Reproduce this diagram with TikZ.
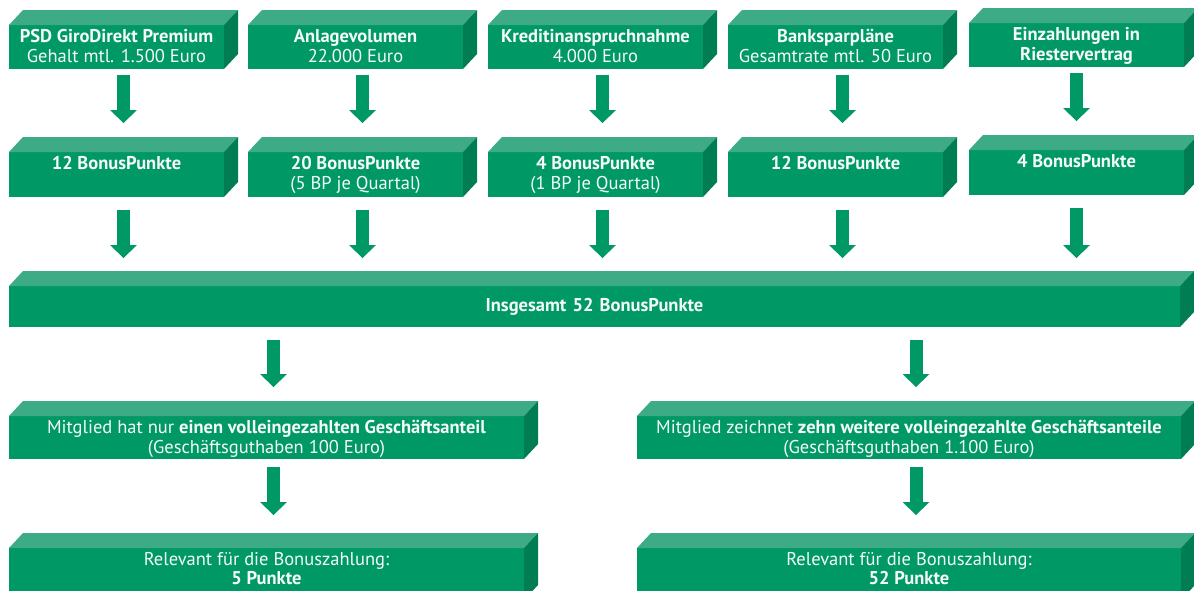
\documentclass[tikz,border=0pt]{standalone}
\usepackage{fontspec}
\setmainfont{PT Sans}
\usetikzlibrary{arrows.meta}
\definecolor{frontc}{HTML}{009966}
\definecolor{topc}{HTML}{3DAB85}
\definecolor{sidec}{HTML}{007D52}
\definecolor{txtc}{HTML}{F4FAF6}
\newcommand\bx[3]{\begin{minipage}[t][#2][t]{#1}\centering\rule{0pt}{17pt}#3\end{minipage}}
\begin{document}
\begin{tikzpicture}[x=1pt,y=-1pt,
  front/.style={fill=frontc, inner sep=0pt, outer sep=0pt, anchor=north west, text=txtc, font=\fontsize{18.5}{20}\selectfont},
  arr/.style={draw=frontc, line width=13pt, -{Triangle[width=27pt,length=13pt,line width=0pt]}},
  topface/.style={fill=topc},
  sideface/.style={fill=sidec}]
\useasboundingbox (0,0) rectangle (1194,590);
\clip (0,0) rectangle (1194,590);
% row 1
\node[front] (a1) at (9,25) {\bx{215pt}{44pt}{\textbf{PSD GiroDirekt Premium}\\Gehalt mtl. 1.500 Euro}};
\node[front] (a2) at (248,25) {\bx{215pt}{44pt}{\textbf{Anlagevolumen}\\22.000 Euro}};
\node[front] (a3) at (488,25) {\bx{215pt}{44pt}{\textbf{Kreditinanspruchnahme}\\4.000 Euro}};
\node[front] (a4) at (728,25) {\bx{215pt}{44pt}{\textbf{Banksparpläne}\\Gesamtrate mtl. 50 Euro}};
\node[front] (a5) at (969,23) {\bx{215pt}{44pt}{\textbf{Einzahlungen in}\\\textbf{Riestervertrag}}};
% row 2
\node[front] (b1) at (9,152) {\bx{215pt}{45pt}{\textbf{12 BonusPunkte}}};
\node[front] (b2) at (248,152) {\bx{215pt}{45pt}{\textbf{20 BonusPunkte}\\(5 BP je Quartal)}};
\node[front] (b3) at (488,152) {\bx{215pt}{45pt}{\textbf{4 BonusPunkte}\\(1 BP je Quartal)}};
\node[front] (b4) at (728,152) {\bx{215pt}{45pt}{\textbf{12 BonusPunkte}}};
\node[front] (b5) at (969,150) {\bx{215pt}{45pt}{\textbf{4 BonusPunkte}}};
% bar
\node[front, minimum width=1171pt, minimum height=41pt, text width=1159pt, align=center] (bar) at (9,286) {\textbf{Insgesamt 52 BonusPunkte}};
% row 4
\node[front] (c1) at (9,416) {\bx{515pt}{43pt}{Mitglied hat nur \textbf{einen volleingezahlten Geschäftsanteil}\\(Geschäftsguthaben 100 Euro)}};
\node[front] (c2) at (637,416) {\bx{544pt}{43pt}{Mitglied zeichnet \textbf{zehn weitere volleingezahlte Geschäftsanteile}\\(Geschäftsguthaben 1.100 Euro)}};
% row 5
\node[front] (d1) at (9,548) {\bx{515pt}{52pt}{\baselineskip=19pt Relevant für die Bonuszahlung:\\\textbf{5 Punkte}}};
\node[front] (d2) at (637,548) {\bx{544pt}{52pt}{\baselineskip=19pt Relevant für die Bonuszahlung:\\\textbf{52 Punkte}}};
% 3d faces
\foreach \n in {a1,a2,a3,a4,a5,b1,b2,b3,b4,b5,bar,c1,c2,d1,d2}{
  \fill[topface] (\n.north west) -- ([shift={(14pt,15pt)}]\n.north west) -- ([shift={(14pt,15pt)}]\n.north east) -- (\n.north east) -- cycle;
  \fill[sideface] (\n.north east) -- ([shift={(14pt,15pt)}]\n.north east) -- ([shift={(14pt,15pt)}]\n.south east) -- (\n.south east) -- cycle;
}
% arrows
\foreach \i/\s in {1/7,2/7,3/7,4/7,5/0}{
  \draw[arr, shorten <=6pt, shorten >=29pt] ([xshift=\s pt]a\i.south) -- ([xshift=\s pt]b\i.north);
  \draw[arr, shorten <=13pt, shorten >=28pt] ([xshift=\s pt]b\i.south) -- ([xshift=\s pt]b\i.south |- bar.north);
}
\foreach \i in {1,2}{
  \draw[arr, shorten <=13pt, shorten >=29pt] ([xshift=7pt]c\i.north |- bar.south) -- ([xshift=7pt]c\i.north);
  \draw[arr, shorten <=8pt, shorten >=33pt] ([xshift=7pt]c\i.south) -- ([xshift=7pt]d\i.north);
}
\end{tikzpicture}
\end{document}
